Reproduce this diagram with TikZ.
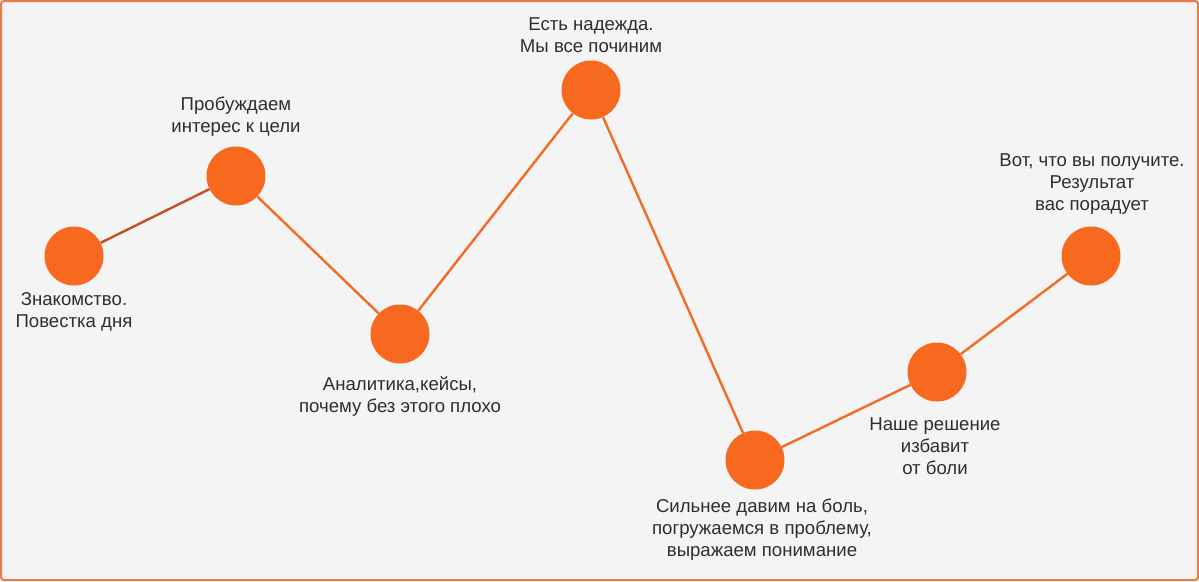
\documentclass[tikz,border=0pt]{standalone}
\usepackage{fontspec}
\setmainfont{Liberation Sans}
\definecolor{bgc}{HTML}{F4F4F4}
\definecolor{dotc}{HTML}{F6691F}
\definecolor{edgec}{HTML}{F26C24}
\definecolor{edgedark}{HTML}{C4521F}
\definecolor{framec}{HTML}{EC7A45}
\definecolor{txtc}{HTML}{2E2E2E}
\tikzset{
  dot/.style={circle,fill=dotc,minimum size=59pt,inner sep=0pt},
  lbl/.style={align=center,text=txtc,font=\fontsize{18.6}{22}\selectfont},
  link/.style={draw=edgec,line width=2.4pt}
}

\begin{document}
\begin{tikzpicture}[x=1pt,y=-1pt]
	%%%%% START %%%%%
	\def\W{1199}
	\def\H{581}
	
	\fill[bgc] (0,0) rectangle (\W,\H);
	\draw[framec,line width=2pt,rounded corners=3pt] (1,1) rectangle (\W-1,\H-1);
	\useasboundingbox (0,0) rectangle (\W,\H);
	
	\node[dot] (d1) at (74,256) {};
	\node[dot] (d2) at (236,176) {};
	\node[dot] (d3) at (400,334) {};
	\node[dot] (d4) at (591,90) {};
	\node[dot] (d5) at (755,460) {};
	\node[dot] (d6) at (937,372) {};
	\node[dot] (d7) at (1091,256) {};
	
	\draw[link,draw=edgedark] (d1) -- (d2);
	\draw[link] (d2) -- (d3);
	\draw[link] (d3) -- (d4);
	\draw[link] (d4) -- (d5);
	\draw[link] (d5) -- (d6);
	\draw[link] (d6) -- (d7);
	
	\node[lbl] (l1) at (74,312) {Знакомство.\\Повестка дня};
	\node[lbl] (l2) at (236,117) {Пробуждаем\\интерес к цели};
	\node[lbl] (l3) at (400,397) {Аналитика,кейсы,\\почему без этого плохо};
	\node[lbl] (l4) at (591,35) {Есть надежда.\\Мы все починим};
	\node[lbl] (l5) at (762,530) {Сильнее давим на боль,\\погружаемся в проблему,\\выражаем понимание};
	\node[lbl] (l6) at (935,446) {Наше решение\\избавит\\от боли};
	\node[lbl] (l7) at (1092,184) {Вот, что вы получите.\\Результат\\вас порадует};
	%%%%% END %%%%%
\end{tikzpicture}
\end{document}
